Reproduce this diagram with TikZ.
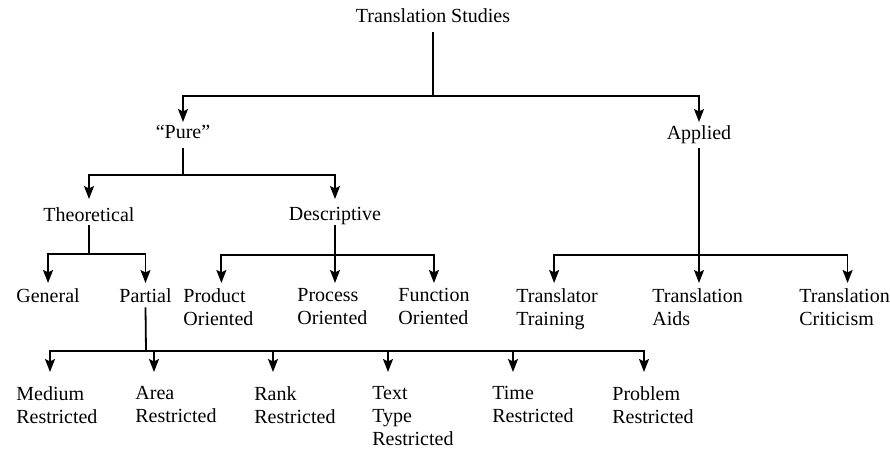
\documentclass[tikz,border=0pt]{standalone}
\usepackage{fontspec}
\setmainfont{Liberation Serif}
\usetikzlibrary{arrows.meta}

\begin{document}
\begin{tikzpicture}[x=0.5pt,y=-0.5pt,
		lbl/.style={inner sep=0pt, align=left, font=\fontsize{10}{11.5}\selectfont},
		link/.style={line width=0.9pt},
		arr/.style={link, -{Stealth[length=6.5pt,width=5pt,inset=1.2pt]}}]
		\useasboundingbox (0,0) rectangle (890,449);
		% upper levels
		\node[lbl, anchor=north] (ts) at (433,8) {Translation Studies};
		\node[lbl, anchor=north] (pure) at (183,125) {“Pure”};
		\node[lbl, anchor=north] (applied) at (699,125) {Applied};
		\node[lbl, anchor=north] (theo) at (89,207) {Theoretical};
		\node[lbl, anchor=north] (desc) at (335,207) {Descriptive};
		% third level
		\node[lbl, anchor=north west] (general) at (16,288) {General};
		\node[lbl, anchor=north west] (partial) at (119,288) {Partial};
		\node[lbl, anchor=north west] (product) at (183,288) {Product\\Oriented};
		\node[lbl, anchor=north west] (process) at (297,288) {Process\\Oriented};
		\node[lbl, anchor=north west] (function) at (398,288) {Function\\Oriented};
		\node[lbl, anchor=north west] (training) at (516,288) {Translator\\Training};
		\node[lbl, anchor=north west] (aids) at (652,288) {Translation\\Aids};
		\node[lbl, anchor=north west] (criticism) at (799,288) {Translation\\Criticism};
		% restricted
		\node[lbl, anchor=north west] (medium) at (16,386) {Medium\\Restricted};
		\node[lbl, anchor=north west] (area) at (135,386) {Area\\Restricted};
		\node[lbl, anchor=north west] (rank) at (254,386) {Rank\\Restricted};
		\node[lbl, anchor=north west] (texttype) at (372,386) {Text\\Type\\Restricted};
		\node[lbl, anchor=north west] (time) at (492,386) {Time\\Restricted};
		\node[lbl, anchor=north west] (problem) at (612,386) {Problem\\Restricted};
		%
		\coordinate (jts) at (433,96);
		\draw[link] ([yshift=-5pt]ts.base) -- (jts);
		\draw[arr, shorten >=1.5pt] (jts) -| (pure.north);
		\draw[arr, shorten >=1.5pt] (jts) -| (applied.north);
		% pure
		\coordinate (jpure) at (183,175);
		\draw[link] ([yshift=-4.5pt]pure.base) -- (jpure);
		\draw[arr, shorten >=4pt] (jpure) -| (theo.north);
		\draw[arr, shorten >=4pt] (jpure) -| (desc.north);
		% theoretical
		\coordinate (jtheo) at (89,254);
		\draw[link] ([yshift=-2pt]theo.base) -- (jtheo);
		\draw[arr, shorten >=2.5pt] (jtheo) -| (general.north);
		\draw[arr, shorten >=2.5pt] (jtheo) -| (partial.north);
		% descriptive
		\coordinate (jdesc) at (335,255);
		\draw[link] ([yshift=-2pt]desc.base) -- (jdesc);
		\draw[arr, shorten >=2.5pt] (jdesc) -| ([xshift=1.5pt]product.north);
		\draw[arr, shorten >=2.5pt] (jdesc) -- (jdesc |- process.north);
		\draw[arr, shorten >=2.5pt] (jdesc) -| (function.north);
		% applied
		\coordinate (japp) at (699,255);
		\draw[link] ([yshift=-4.5pt]applied.base) -- (japp);
		\draw[arr, shorten >=2.5pt] (japp) -| ([xshift=-1.5pt]training.north);
		\draw[arr, shorten >=2.5pt] (japp) -- (japp |- aids.north);
		\draw[arr, shorten >=2.5pt] (japp) -| ([xshift=1.5pt]criticism.north);
		% partial
		\coordinate (jpart) at (146,351);
		\draw[link] ([yshift=-2.5pt]partial.base) -- (jpart);
		\draw[arr, shorten >=7pt] (jpart) -| ([xshift=17pt]medium.north west);
		\draw[arr, shorten >=7pt] (jpart) -| ([xshift=9.5pt]area.north west);
		\draw[arr, shorten >=7pt] (jpart) -| ([xshift=9.5pt]rank.north west);
		\draw[arr, shorten >=7pt] (jpart) -| ([xshift=8pt]texttype.north west);
		\draw[arr, shorten >=7pt] (jpart) -| ([xshift=10.5pt]time.north west);
		\draw[arr, shorten >=7pt] (jpart) -| ([xshift=16pt]problem.north west);
	\end{tikzpicture}
\end{document}
